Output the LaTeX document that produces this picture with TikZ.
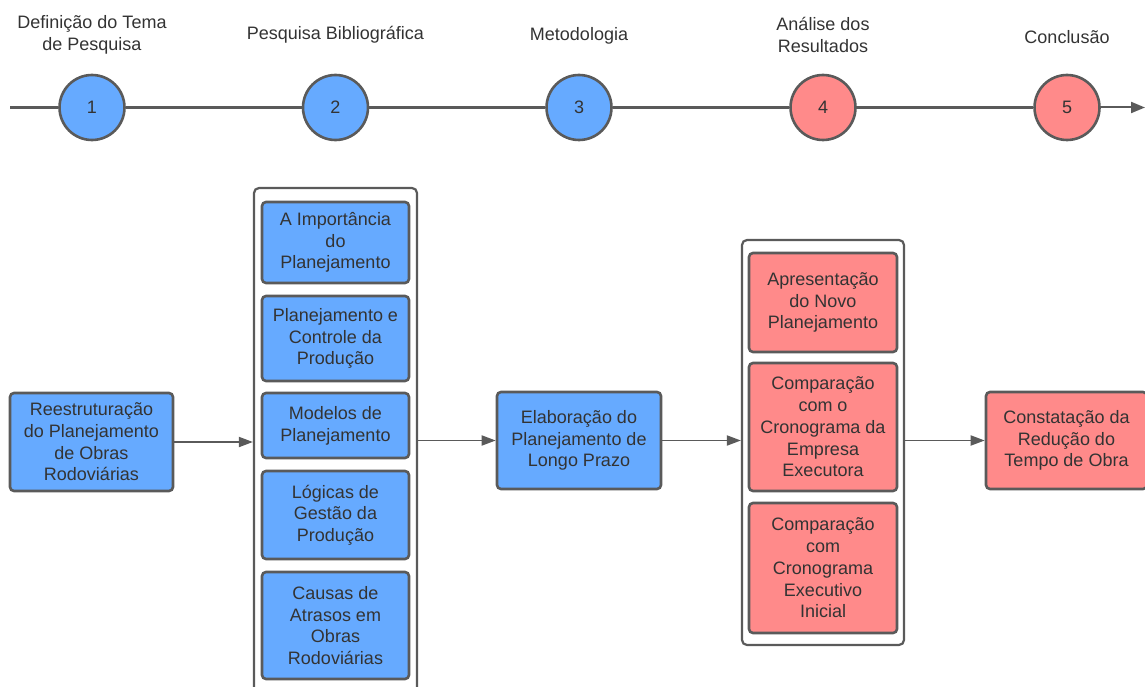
\documentclass[tikz,border=0pt]{standalone}
\usepackage{fontspec}
\setmainfont{Liberation Sans}
\usetikzlibrary{arrows.meta}
\definecolor{bluefill}{HTML}{66AAFF}
\definecolor{redfill}{HTML}{FF8A8A}
\definecolor{edge}{HTML}{5A5A5A}
\definecolor{txt}{HTML}{333333}
\tikzset{
  box/.style={draw=edge, line width=2.6pt, rounded corners=4pt, align=center, text=txt,
    font=\fontsize{18}{21.7}\selectfont, inner sep=0pt},
  bbox/.style={box, fill=bluefill},
  rbox/.style={box, fill=redfill},
  cont/.style={draw=edge, line width=2.2pt, rounded corners=5pt, fill=white, inner sep=0pt},
  stage/.style={circle, draw=edge, line width=2.6pt, minimum size=65pt, inner sep=0pt,
    text=txt, font=\fontsize{18}{20}\selectfont},
  lbl/.style={align=center, text=txt, font=\fontsize{18}{21.7}\selectfont, inner sep=0pt},
  tl/.style={draw=edge, line width=2.6pt},
  conn/.style={draw=edge, line width=1.8pt, -{Triangle[length=14pt,width=10pt]}},
}
\begin{document}
\begin{tikzpicture}[x=1pt,y=-1pt]
\useasboundingbox (0,0) rectangle (1145,687);
\clip (0,0) rectangle (1145,687);
% timeline
\coordinate (ts) at (10,107.5);
\coordinate (te) at (1145,107.5);
\node[stage, fill=bluefill] (c1) at (92,107.5) {1};
\node[stage, fill=bluefill] (c2) at (335.5,107.5) {2};
\node[stage, fill=bluefill] (c3) at (579,107.5) {3};
\node[stage, fill=redfill] (c4) at (823,107.5) {4};
\node[stage, fill=redfill] (c5) at (1067,107.5) {5};
\draw[tl] (ts) -- (c1);
\draw[tl] (c1) -- (c2);
\draw[tl] (c2) -- (c3);
\draw[tl] (c3) -- (c4);
\draw[tl] (c4) -- (c5);
\draw[tl, line width=2pt, -{Triangle[length=14pt,width=11pt]}] (c5) -- (te);
\node[lbl] (l1) at (92,35) {Definição do Tema\\de Pesquisa};
\node[lbl] (l2) at (335.5,35) {Pesquisa Bibliográfica};
\node[lbl] (l3) at (579,36) {Metodologia};
\node[lbl] (l4) at (823,35) {Análise dos\\Resultados};
\node[lbl] (l5) at (1067,37) {Conclusão};
% lower part
\node[bbox, minimum width=163pt, minimum height=98pt] (reest) at (91.5,442) {Reestruturação\\do Planejamento\\de Obras\\Rodoviárias};
\node[cont, minimum width=163pt, minimum height=512pt] (k1) at (335.5,444) {};
\node[bbox, minimum width=147pt, minimum height=81pt] (a1) at (335.5,242.5) {A Importância\\do\\Planejamento};
\node[bbox, minimum width=147pt, minimum height=85pt] (a2) at (335.5,338.5) {Planejamento e\\Controle da\\Produção};
\node[bbox, minimum width=147pt, minimum height=65pt] (a3) at (335.5,425.5) {Modelos de\\Planejamento};
\node[bbox, minimum width=147pt, minimum height=88pt] (a4) at (335.5,515) {Lógicas de\\Gestão da\\Produção};
\node[bbox, minimum width=147pt, minimum height=107pt] (a5) at (335.5,625.5) {Causas de\\Atrasos em\\Obras\\Rodoviárias};
\node[bbox, minimum width=164pt, minimum height=97pt] (elab) at (579,440.5) {Elaboração do\\Planejamento de\\Longo Prazo};
\node[cont, minimum width=162pt, minimum height=405pt] (k2) at (823,442.5) {};
\node[rbox, minimum width=148pt, minimum height=99pt] (r1) at (823,302.5) {Apresentação\\do Novo\\Planejamento};
\node[rbox, minimum width=148pt, minimum height=128pt] (r2) at (823,427) {Comparação\\com o\\Cronograma da\\Empresa\\Executora};
\node[rbox, minimum width=148pt, minimum height=130pt] (r3) at (823,568) {Comparação\\com\\Cronograma\\Executivo\\Inicial};
\node[rbox, minimum width=161pt, minimum height=97pt] (fin) at (1066.5,440.5) {Constatação da\\Redução do\\Tempo de Obra};
\draw[conn] (reest.east) -- (reest.east -| k1.west);
\draw[conn] (k1.east |- elab.west) -- (elab.west);
\draw[conn] (elab.east) -- (elab.east -| k2.west);
\draw[conn] (k2.east |- fin.west) -- (fin.west);
\end{tikzpicture}
\end{document}
